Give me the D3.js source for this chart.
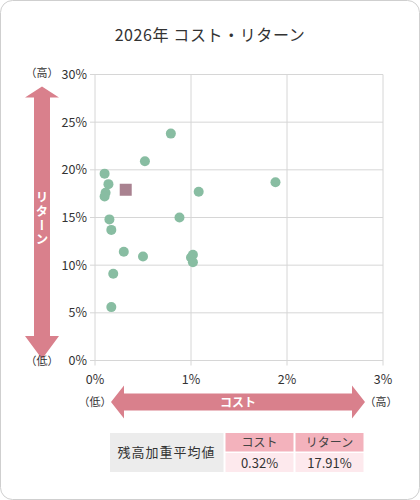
<!DOCTYPE html>
<html>
<head>
<meta charset="utf-8">
<script src="https://cdn.jsdelivr.net/npm/d3@7"></script>
<style>
  body { margin: 0; background: #fff; }
  text { font-family: "Noto Sans CJK JP", "Noto Sans", sans-serif; }
</style>
</head>
<body>
<script>
// 各ファンドのコスト(%)とリターン(%)
const costs   = [0.79, 0.52, 0.10, 0.14, 0.11, 0.10, 1.08, 0.15, 0.88, 0.17, 0.30, 0.50, 1.02, 1.00, 1.02, 0.19, 0.17, 1.88];
const returns = [23.8, 20.9, 19.6, 18.5, 17.6, 17.2, 17.7, 14.8, 15.0, 13.7, 11.4, 10.9, 11.1, 10.8, 10.3, 9.1, 5.6, 18.7];
const avgCost = 0.32, avgReturn = 17.91;
const xTicks = [0, 1, 2, 3];
const yTicks = [0, 5, 10, 15, 20, 25, 30];
const tableHeaders = ['コスト', 'リターン'];
const tableLabel = '残高加重平均値';

const width = 420, height = 500;
const margin = { top: 74.5, right: 37, bottom: 139.5, left: 95 };

const svg = d3.select('body')
  .append('svg')
  .attr('width', width)
  .attr('height', height);

svg.append('rect')
  .attr('x', 0.5).attr('y', 0.5)
  .attr('width', width - 1).attr('height', height - 1)
  .attr('rx', 12)
  .attr('fill', '#fff')
  .attr('stroke', '#cfcfcf');

svg.append('text')
  .attr('x', 210).attr('y', 41)
  .attr('text-anchor', 'middle')
  .attr('font-size', 16)
  .attr('letter-spacing', 0.6)
  .attr('fill', '#333')
  .text('2026年 コスト・リターン');

const xScale = d3.scaleLinear()
  .domain([0, 3])
  .range([margin.left, width - margin.right]);

const yScale = d3.scaleLinear()
  .domain([0, 30])
  .range([height - margin.bottom, margin.top]);

const grid = svg.append('g');
grid.selectAll('.vx')
  .data(xTicks)
  .enter()
  .append('line')
  .attr('x1', d => xScale(d)).attr('x2', d => xScale(d))
  .attr('y1', yScale(30)).attr('y2', yScale(0) + 5)
  .attr('stroke', '#d6d6d6');
grid.selectAll('.hy')
  .data(yTicks)
  .enter()
  .append('line')
  .attr('x1', xScale(0) - 5).attr('x2', xScale(3))
  .attr('y1', d => yScale(d)).attr('y2', d => yScale(d))
  .attr('stroke', '#d6d6d6');

svg.selectAll('.ylab')
  .data(yTicks)
  .enter()
  .append('text')
  .attr('x', xScale(0) - 8)
  .attr('y', d => yScale(d) + 4.5)
  .attr('text-anchor', 'end')
  .attr('font-size', 12.5)
  .attr('fill', '#333')
  .text(d => d + '%');

svg.selectAll('.xlab')
  .data(xTicks)
  .enter()
  .append('text')
  .attr('x', d => xScale(d))
  .attr('y', yScale(0) + 23)
  .attr('text-anchor', 'middle')
  .attr('font-size', 12.5)
  .attr('fill', '#333')
  .text(d => d + '%');

// 散布図
const points = costs.map((c, i) => ({ cost: c, ret: returns[i] }));
svg.selectAll('circle')
  .data(points)
  .enter()
  .append('circle')
  .attr('cx', d => xScale(d.cost))
  .attr('cy', d => yScale(d.ret))
  .attr('r', 5)
  .attr('fill', '#88bda2');

svg.append('rect')
  .attr('x', xScale(avgCost) - 6)
  .attr('y', yScale(avgReturn) - 6)
  .attr('width', 12).attr('height', 12)
  .attr('fill', '#a98290');

// 矢印
const arrowColor = '#d9808c';
const vx = 42, vTop = 86.5, vBot = 359;
svg.append('path')
  .attr('d', `M${vx},${vTop} L${vx + 17},${vTop + 11} L${vx + 8},${vTop + 11} L${vx + 8},${vBot - 23} L${vx + 17},${vBot - 23} L${vx},${vBot} L${vx - 17},${vBot - 23} L${vx - 8},${vBot - 23} L${vx - 8},${vTop + 11} L${vx - 17},${vTop + 11} Z`)
  .attr('fill', arrowColor);

svg.append('text')
  .attr('x', vx)
  .attr('y', 219)
  .attr('text-anchor', 'middle')
  .attr('writing-mode', 'vertical-rl')
  .attr('font-size', 12.5)
  .attr('letter-spacing', 1.5)
  .attr('font-weight', 'bold')
  .attr('fill', '#fff')
  .text('リターン');

const hy = 402, hL = 111, hR = 365;
svg.append('path')
  .attr('d', `M${hL},${hy} L${hL + 13},${hy - 16.5} L${hL + 13},${hy - 8.5} L${hR - 13},${hy - 8.5} L${hR - 13},${hy - 16.5} L${hR},${hy} L${hR - 13},${hy + 16.5} L${hR - 13},${hy + 8.5} L${hL + 13},${hy + 8.5} L${hL + 13},${hy + 16.5} Z`)
  .attr('fill', arrowColor);

svg.append('text')
  .attr('x', 238).attr('y', hy + 4.5)
  .attr('text-anchor', 'middle')
  .attr('font-size', 12)
  .attr('font-weight', 'bold')
  .attr('fill', '#fff')
  .text('コスト');

const side = [
  { x: 42, y: 77, t: '（高）' },
  { x: 42, y: 365, t: '（低）' },
  { x: 95, y: 406, t: '（低）' },
  { x: 381, y: 406, t: '（高）' }
];
svg.selectAll('.side')
  .data(side)
  .enter()
  .append('text')
  .attr('x', d => d.x).attr('y', d => d.y)
  .attr('text-anchor', 'middle')
  .attr('font-size', 11)
  .attr('fill', '#333')
  .text(d => d.t);

// 残高加重平均値テーブル
const tY = 433, hH = 18.5, rH = 19;
svg.append('rect')
  .attr('x', 110).attr('y', tY)
  .attr('width', 113.5).attr('height', hH + rH + 1.5)
  .attr('fill', '#ececec');
svg.append('text')
  .attr('x', 166.5).attr('y', tY + 24)
  .attr('text-anchor', 'middle')
  .attr('font-size', 13)
  .attr('letter-spacing', 1)
  .attr('fill', '#333')
  .text(tableLabel);

const values = [avgCost.toFixed(2) + '%', avgReturn.toFixed(2) + '%'];
const colX = [225.5, 295.5];
tableHeaders.forEach((h, i) => {
  svg.append('rect')
    .attr('x', colX[i]).attr('y', tY)
    .attr('width', 68).attr('height', hH)
    .attr('fill', '#f3b2bc');
  svg.append('rect')
    .attr('x', colX[i]).attr('y', tY + hH + 1.5)
    .attr('width', 68).attr('height', rH)
    .attr('fill', '#fde9ed');
  svg.append('text')
    .attr('x', colX[i] + 34).attr('y', tY + 14)
    .attr('text-anchor', 'middle')
    .attr('font-size', 12)
    .attr('fill', '#444')
    .text(h);
  svg.append('text')
    .attr('x', colX[i] + 34).attr('y', tY + hH + 16)
    .attr('text-anchor', 'middle')
    .attr('font-size', 13)
    .attr('fill', '#333')
    .text(values[i]);
});
</script>
</body>
</html>
